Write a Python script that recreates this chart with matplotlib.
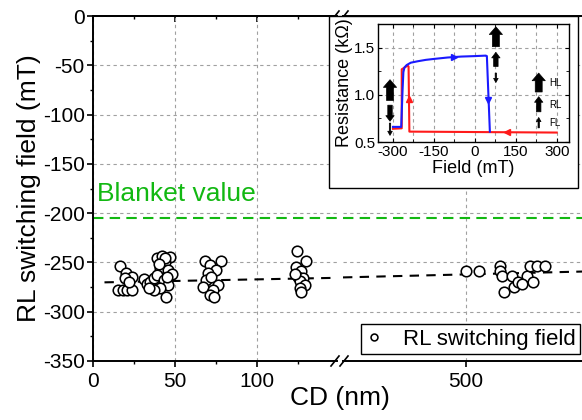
import matplotlib
matplotlib.use('Agg')
import matplotlib.pyplot as plt
import numpy as np
from matplotlib.patches import Rectangle
from matplotlib.lines import Line2D
from matplotlib.ticker import MultipleLocator

plt.rcParams['font.family'] = ['Liberation Sans', 'DejaVu Sans']
plt.rcParams['axes.unicode_minus'] = False

# ---------------- data ----------------
cd_nm = [15, 18, 21, 24, 16.5, 20, 24, 19.5, 22,
         31, 33, 35, 37, 39, 42, 47, 44, 41, 46, 48, 39, 43, 46, 41, 37, 44.5, 34, 44, 40, 45,
         68, 78, 71.5, 75, 70, 69, 67, 76, 73, 71.5, 74, 72,
         124.5, 130, 124, 127, 125, 128, 126, 129, 126, 127, 123,
         500, 508, 521, 521, 522, 523, 528, 529, 532, 537, 539, 541, 543, 548, 534]
rl_field = [-278, -278, -278, -278, -254, -261, -265, -266, -270,
            -267, -272, -270, -266, -245, -243, -244, -250, -256, -258, -262, -263, -268, -273, -276, -278, -285, -276, -246, -252, -265,
            -249, -249, -253, -258, -261, -268, -275, -273, -278, -283, -285, -265,
            -238, -249, -255, -259, -265, -266, -269, -273, -276, -280, -262,
            -259, -259, -254, -259, -264, -280, -264, -275, -270, -264, -254, -270, -254, -254, -272]
# trend (guide) line, left and right of the axis break
trend_cd_left = [7, 149]
trend_rl_left = [-270.2, -265.6]
trend_cd_right = [425, 577]
trend_rl_right = [-265.2, -259.0]
blanket_value = -205

# inset loop
blue_field = [-300, -270, -265, -262, -258, -250, -235, -210, -180, -150, -100, -50, 0, 40, 44, 55]
blue_R = [0.66, 0.66, 1.05, 1.24, 1.29, 1.315, 1.34, 1.355, 1.37, 1.38, 1.395, 1.405, 1.41, 1.415, 1.41, 0.61]
red_field = [300, -240, -243, -246, -268, -268, -300]
red_R = [0.60, 0.61, 1.30, 1.31, 1.27, 0.645, 0.64]

# ---------------- figure ----------------
W, H = 582, 420
fig = plt.figure(figsize=(W / 100, H / 100), dpi=100)

def fx(px):
    return px / W

def fy(py):
    return 1 - py / H

yb, yt = 361, 16
ax1 = fig.add_axes([fx(93), fy(yb), fx(337) - fx(93), fy(yt) - fy(yb)])
ax2 = fig.add_axes([fx(343), fy(yb), fx(592) - fx(343), fy(yt) - fy(yb)])

xl1 = (0, (337 - 93) / 1.64)
xl2 = (500 - (466 - 343) / 1.64, 500 + (592 - 466) / 1.64)

green = '#12b812'
gridkw = dict(ls=(0, (3, 3)), color='#a0a0a0', lw=0.8)

cd = np.array(cd_nm)
rl = np.array(rl_field)
for ax, xl, tcd, trl in ((ax1, xl1, trend_cd_left, trend_rl_left),
                         (ax2, xl2, trend_cd_right, trend_rl_right)):
    m = (cd >= xl[0]) & (cd <= xl[1])
    ax.plot(cd[m], rl[m], ls='none', marker='o', ms=7.6, mfc='white', mec='black', mew=1.15, zorder=3)
    ax.set_xlim(*xl)
    ax.set_ylim(-350, 0)
    ax.set_yticks(np.arange(-350, 1, 50))
    ax.yaxis.set_minor_locator(MultipleLocator(25))
    ax.grid(True, which='major', **gridkw)
    ax.set_axisbelow(True)
    ax.axhline(blanket_value, color=green, ls=(0, (5, 3)), lw=1.5, zorder=2)
    ax.plot(tcd, trl, color='black', ls=(0, (4.5, 3.5)), lw=1.5, zorder=2)
    for s in ax.spines.values():
        s.set_linewidth(1.4)

line_handle = ax1.lines[0]

ax1.set_xticks([0, 50, 100])
ax1.xaxis.set_minor_locator(MultipleLocator(25))
ax1.spines['right'].set_visible(False)
ax1.tick_params(axis='both', which='major', direction='out', length=4, width=1.2, labelsize=15, pad=2)
ax1.tick_params(axis='both', which='minor', direction='out', length=2.5, width=1.0)
ax1.tick_params(axis='x', pad=4)
ax1.set_ylabel('RL switching field (mT)', fontsize=19, labelpad=1)

top1 = ax1.secondary_xaxis('top')
top1.set_xticks([0, 50, 100])
top1.xaxis.set_minor_locator(MultipleLocator(25))
top1.tick_params(which='both', direction='in', labeltop=False)
top1.tick_params(which='major', length=4, width=1.2)
top1.tick_params(which='minor', length=2.5, width=1.0)
top1.spines['top'].set_linewidth(1.4)

ax2.set_xticks([500])
ax2.spines['left'].set_visible(False)
ax2.spines['right'].set_visible(False)
ax2.tick_params(axis='y', which='both', left=False, labelleft=False)
ax2.tick_params(axis='x', which='major', direction='out', length=4, width=1.2, labelsize=15, pad=4)

ax1.text(2.4, -181, 'Blanket value', color=green, fontsize=19, va='center', ha='left')

fig.text(fx(340), fy(398), 'CD (nm)', fontsize=19, ha='center', va='center')

# break marks
for cx in (335, 344):
    for cy in (yb, yt):
        fig.add_artist(Line2D([fx(cx - 4), fx(cx + 4)], [fy(cy + 5), fy(cy - 5)],
                              color='black', lw=1.2, transform=fig.transFigure))

leg = fig.legend([line_handle], ['RL switching field'], loc='lower right',
                 bbox_to_anchor=(fx(580), fy(354)), fontsize=16, frameon=True,
                 fancybox=False, edgecolor='black', markerscale=0.65,
                 handlelength=0.8, handletextpad=0.9, borderpad=0.2, borderaxespad=0)
leg.get_frame().set_linewidth(1.0)
leg.get_frame().set_alpha(1)

# ---------------- inset ----------------
fig.add_artist(Rectangle((fx(329), fy(188)), fx(578) - fx(329), fy(16) - fy(188),
                         transform=fig.transFigure, facecolor='white', edgecolor='black',
                         lw=1.0, zorder=4))
iax = fig.add_axes([fx(378), fy(142), fx(569) - fx(378), fy(24) - fy(142)], zorder=5)
iax.plot(red_field, red_R, color='#ff1a1a', lw=1.5, zorder=3)
iax.plot(blue_field, blue_R, color='#1a1aff', lw=1.5, zorder=3)
# sweep direction markers
iax.plot([-77], [1.40], marker='>', color='#1a1aff', ms=4, zorder=4)
iax.plot([48], [0.94], marker='v', color='#1a1aff', ms=4, zorder=4)
iax.plot([-241], [0.96], marker='^', color='#ff1a1a', ms=4, zorder=4)
iax.plot([116], [0.605], marker='<', color='#ff1a1a', ms=4, zorder=4)

iax.set_xlim(-355, 345)
iax.set_ylim(0.5, 1.75)
iax.set_xticks([-300, -150, 0, 150, 300])
iax.xaxis.set_minor_locator(MultipleLocator(75))
iax.set_yticks([0.5, 1.0, 1.5])
iax.yaxis.set_minor_locator(MultipleLocator(0.25))
iax.grid(True, which='major', axis='y', **gridkw)
iax.grid(True, which='both', axis='x', **gridkw)
iax.set_axisbelow(True)
iax.tick_params(which='both', direction='in', top=True, right=True, labelsize=11, pad=2)
iax.tick_params(which='major', length=3)
iax.tick_params(which='minor', length=2)
for s in iax.spines.values():
    s.set_linewidth(1.0)
iax.set_xlabel('Field (mT)', fontsize=13, labelpad=1)
iax.set_ylabel('Resistance (kΩ)', fontsize=13, labelpad=1)

styles = {
    'big': 'simple,head_length=0.55,head_width=0.95,tail_width=0.5',
    'mid': 'simple,head_length=0.4,head_width=0.6,tail_width=0.32',
    'small': 'simple,head_length=0.3,head_width=0.33,tail_width=0.1',
}

def block_arrow(x, y_tail, y_head, kind):
    iax.annotate('', xy=(x, y_head), xytext=(x, y_tail),
                 arrowprops=dict(arrowstyle=styles[kind], mutation_scale=10,
                                 fc='black', ec='black', lw=0.5, shrinkA=0, shrinkB=0),
                 zorder=6)

block_arrow(-311, 0.94, 1.16, 'big')
block_arrow(-311, 0.89, 0.72, 'mid')
block_arrow(-311, 0.70, 0.57, 'small')
block_arrow(77, 1.51, 1.72, 'big')
block_arrow(77, 1.30, 1.45, 'mid')
block_arrow(77, 1.23, 1.13, 'small')
block_arrow(234, 1.03, 1.23, 'big')
block_arrow(234, 0.82, 0.98, 'mid')
block_arrow(234, 0.65, 0.76, 'small')
for lab, yv in (('HL', 1.13), ('RL', 0.89), ('FL', 0.70)):
    iax.text(272, yv, lab, fontsize=7, va='center', ha='left')

fig.savefig('out.png', dpi=100)
